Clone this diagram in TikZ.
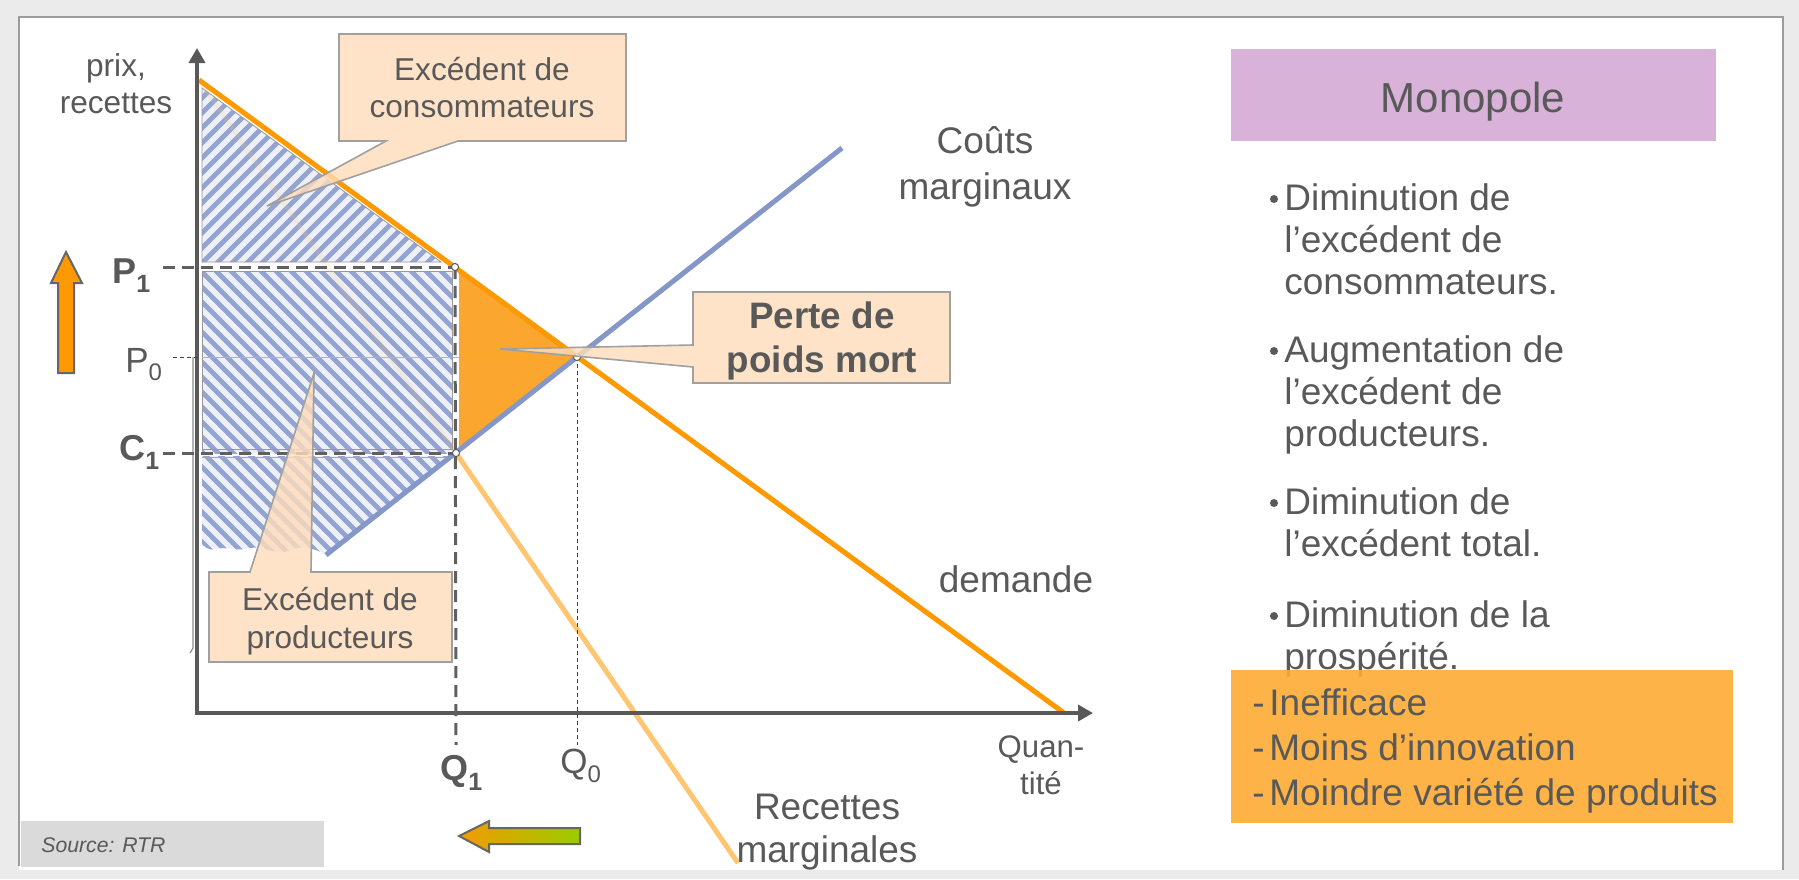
\documentclass[tikz,border=0pt]{standalone}
\usepackage{fontspec}
\setmainfont{Liberation Sans}
\usetikzlibrary{arrows.meta}
\definecolor{tgray}{HTML}{595959}
\definecolor{axgray}{HTML}{595959}
\definecolor{dem}{HTML}{FF9900}
\definecolor{mcblue}{HTML}{8497C8}
\definecolor{mrcol}{HTML}{FFC571}
\definecolor{hatchb}{HTML}{93A3D2}
\definecolor{hatchbg}{HTML}{EDF0F8}
\definecolor{dwlcol}{HTML}{FBA72F}
\definecolor{peach}{HTML}{FFDDBB}
\definecolor{cborder}{HTML}{A0A0A0}
\definecolor{mauve}{HTML}{D9B2D9}
\definecolor{obox}{HTML}{FDAB34}
\definecolor{framebg}{HTML}{EBEBEB}
\definecolor{frameline}{HTML}{9C9C9C}
\definecolor{srcbg}{HTML}{DADADA}
\definecolor{arrgreen}{HTML}{99CC00}
\definecolor{arrorange}{HTML}{F59A00}
\definecolor{dashgray}{HTML}{606060}
\begin{document}
\begin{tikzpicture}[x=0.5pt,y=-0.5pt,
  txt/.style={inner sep=0pt, anchor=base, text=tgray},
  txtw/.style={inner sep=0pt, anchor=base west, text=tgray},
  fA/.style={font=\fontsize{15.8}{18}\selectfont},
  fB/.style={font=\fontsize{18.5}{21}\selectfont},
  fBb/.style={font=\fontsize{18.4}{21}\selectfont\bfseries},
  fQ/.style={font=\fontsize{15.6}{18}\selectfont},
  fM/.style={font=\fontsize{21}{24}\selectfont},
  fsrc/.style={font=\fontsize{10.6}{12}\selectfont\itshape},
  curve/.style={line width=2.5pt},
  stripe/.style={draw=hatchb, line width=2.4pt},
  thickdash/.style={draw=dashgray, line width=1.5pt, dash pattern=on 6pt off 3.5pt},
  thindash/.style={draw=black!75, line width=0.5pt, dash pattern=on 2pt off 1.5pt},
  callout/.style={fill=peach, fill opacity=0.8, draw=cborder, line width=0.8pt},
  dot/.style={fill=white, draw=black!65, line width=0.5pt},
  bigarrow/.style={draw=black!60, line width=1pt}
]
\useasboundingbox (0,0) rectangle (1799,879);
% frame
\fill[framebg] (0,0) rectangle (1799,879);
\fill[white] (19,17) rectangle (1783,870);
\draw[frameline, line width=1.3pt] (19,866) -- (19,17) -- (1783,17) -- (1783,870);
% source box
\fill[srcbg] (21,821) rectangle (324,867);
\node[txtw, fsrc] (src) at (41,852) {Source: RTR};

% key coordinates
\coordinate (top) at (199,80);
\coordinate (pone) at (455,267);
\coordinate (cone) at (456,453);
\coordinate (eq) at (577,357);
\coordinate (demend) at (1064,713);
\coordinate (mclow) at (326,555);
\coordinate (mchigh) at (842,148);
\coordinate (mrend) at (738,863);
\coordinate (origin) at (197,713);
\coordinate (ytip) at (197,48);
\coordinate (xtip) at (1093,713);

% hatched consumer triangle
\fill[hatchbg] (202,88) -- (202,262) -- (441,262) -- cycle;
\begin{scope}
  \clip (202,88) -- (202,262) -- (441,262) -- cycle;
  \foreach \c in {270,285,...,720} {\draw[stripe] (\c-70,70) -- (\c-280,280);}
\end{scope}
\draw[black!40, line width=0.4pt] (202,88) -- (202,262) -- (441,262) -- cycle;
% hatched rectangle + lower producer area
\fill[hatchbg] (202,271) -- (452,271) -- (452,455) -- (mclow)
  .. controls (312,546) and (298,546) .. (288,551)
  .. controls (276,556) and (262,545) .. (250,548)
  .. controls (238,552) and (226,546) .. (216,549)
  .. controls (208,551) and (204,546) .. (202,544) -- cycle;
\begin{scope}
  \clip (202,271) -- (452,271) -- (452,455) -- (mclow)
  .. controls (312,546) and (298,546) .. (288,551)
  .. controls (276,556) and (262,545) .. (250,548)
  .. controls (238,552) and (226,546) .. (216,549)
  .. controls (208,551) and (204,546) .. (202,544) -- cycle;
  \foreach \c in {-370,-355,...,200} {\draw[stripe] (\c+260,260) -- (\c+570,570);}
\end{scope}
\draw[black!40, line width=0.4pt] (202,271) -- (452,271) -- (452,449) -- (202,449) -- cycle;
\draw[white, line width=1pt] (202,455) -- (452,455);
\draw[black!35, line width=0.4pt] (202,457) -- (450,457);
% faint upper marginal revenue
\draw[mrcol, curve, opacity=0.15] (top) -- (cone);
% deadweight loss triangle
\fill[dwlcol] (459,272) -- (574,357) -- (459,449) -- cycle;
\draw[black!50, line width=0.4pt] (459,272) -- (567,352);
% thin P0 line across
\draw[black!30, line width=0.5pt] (202,357) -- (575,357);
% thin vertical edge left of axis
\draw[black!45, line width=0.6pt] (193,357) -- (193,648) -- (190,653);

% curves
\draw[mrcol, curve] (cone) -- (mrend);
\draw[mcblue, curve] (mclow) -- (mchigh);
\draw[dem, curve] (top) -- (demend);

% axes
\draw[axgray, line width=1.75pt, arrows={Triangle[length=7.5pt,width=8pt]-Triangle[length=7.5pt,width=8pt]}]
  (ytip) -- (origin) -- (xtip);

% dashed guides
\draw[thickdash] (163,267) -- (pone);
\draw[thickdash] (163,453) -- (cone);
\draw[thickdash] (pone) -- (456,745);
\draw[thindash] (173,357) -- (198,357);
\draw[thindash] (eq) -- (577,745);

% points
\filldraw[dot] (pone) circle (1.8pt);
\filldraw[dot] (cone) circle (1.8pt);
\filldraw[dot] (eq) circle (1.8pt);

% callouts
\path[callout] (339,34) -- (626,34) -- (626,141) -- (458,141) -- (267,206) -- (386,141) -- (339,141) -- cycle;
\node[txt, fA] (cs1) at (482,80) {Excédent de};
\node[txt, fA] (cs2) at (482,117) {consommateurs};
\path[callout] (209,572) -- (250,572) -- (314,373) -- (311,572) -- (452,572) -- (452,662) -- (209,662) -- cycle;
\node[txt, fA] (ps1) at (330,610) {Excédent de};
\node[txt, fA] (ps2) at (330,648) {producteurs};
\path[callout] (693,292) -- (950,292) -- (950,383) -- (693,383) -- (693,367) -- (500,349) -- (693,345) -- cycle;
\node[txt, fBb] (pm1) at (822,328) {Perte de};
\node[txt, fBb] (pm2) at (822,372) {poids mort};

% axis labels
\node[txt, fA] (prix1) at (116,76) {prix,};
\node[txt, fA] (prix2) at (116,113) {recettes};
\node[txt, fB] (cm1) at (985,153) {Coûts};
\node[txt, fB] (cm2) at (985,199) {marginaux};
\node[txt, fB] (dmd) at (1016,592) {demande};
\node[txt, fQ] (qt1) at (1041,757) {Quan-};
\node[txt, fQ] (qt2) at (1041,794) {tité};
\node[txt, fB] (rm1) at (827,819) {Recettes};
\node[txt, fB] (rm2) at (827,862) {marginales};

% price / quantity labels
\node[txtw, font=\fontsize{18}{20}\selectfont\bfseries] (P1) at (112,283) {P\lower4.5pt\hbox{\fontsize{12.5}{14}\selectfont 1}};
\node[txtw, font=\fontsize{17.5}{20}\selectfont] (P0) at (125,372) {P\lower4pt\hbox{\fontsize{12}{14}\selectfont 0}};
\node[txtw, font=\fontsize{18}{20}\selectfont\bfseries] (C1) at (119,460) {C\lower4.5pt\hbox{\fontsize{12.5}{14}\selectfont 1}};
\node[txtw, font=\fontsize{18}{20}\selectfont\bfseries] (Q1) at (440,780) {Q\lower5pt\hbox{\fontsize{12.5}{14}\selectfont 1}};
\node[txtw, font=\fontsize{17.5}{20}\selectfont] (Q0) at (560,773) {Q\lower4.5pt\hbox{\fontsize{12}{14}\selectfont 0}};

% big arrows
\path[bigarrow, fill=dem] (58,373) -- (58,283) -- (51,283) -- (66,252) -- (82,283) -- (74,283) -- (74,373) -- cycle;
\path[bigarrow, left color=arrorange, right color=arrgreen] (459,836) -- (489,821) -- (489,828) -- (580,828) -- (580,844) -- (489,844) -- (489,852) -- cycle;

% right panel
\fill[mauve] (1231,49) rectangle (1716,141);
\node[txt, fM] (mono) at (1473,112) {Monopole};
\foreach \yy in {210,362,514,627} {\fill[tgray] (1274,\yy-11) circle (2pt);}
\node[txtw, fB] (b1a) at (1284,210) {Diminution de};
\node[txtw, fB] (b1b) at (1284,252) {l’excédent de};
\node[txtw, fB] (b1c) at (1284,294) {consommateurs.};
\node[txtw, fB] (b2a) at (1284,362) {Augmentation de};
\node[txtw, fB] (b2b) at (1284,404) {l’excédent de};
\node[txtw, fB] (b2c) at (1284,446) {producteurs.};
\node[txtw, fB] (b3a) at (1284,514) {Diminution de};
\node[txtw, fB] (b3b) at (1284,556) {l’excédent total.};
\node[txtw, fB] (b4a) at (1284,627) {Diminution de la};
\node[txtw, fB] (b4b) at (1284,669) {prospérité.};
\fill[obox, fill opacity=0.9] (1231,670) rectangle (1733,823);
\node[txtw, fB] (o1) at (1252,715) {\makebox[8.5pt][l]{-}Inefficace};
\node[txtw, fB] (o2) at (1252,760) {\makebox[8.5pt][l]{-}Moins d’innovation};
\node[txtw, fB] (o3) at (1252,805) {\makebox[8.5pt][l]{-}Moindre variété de produits};
\end{tikzpicture}
\end{document}
